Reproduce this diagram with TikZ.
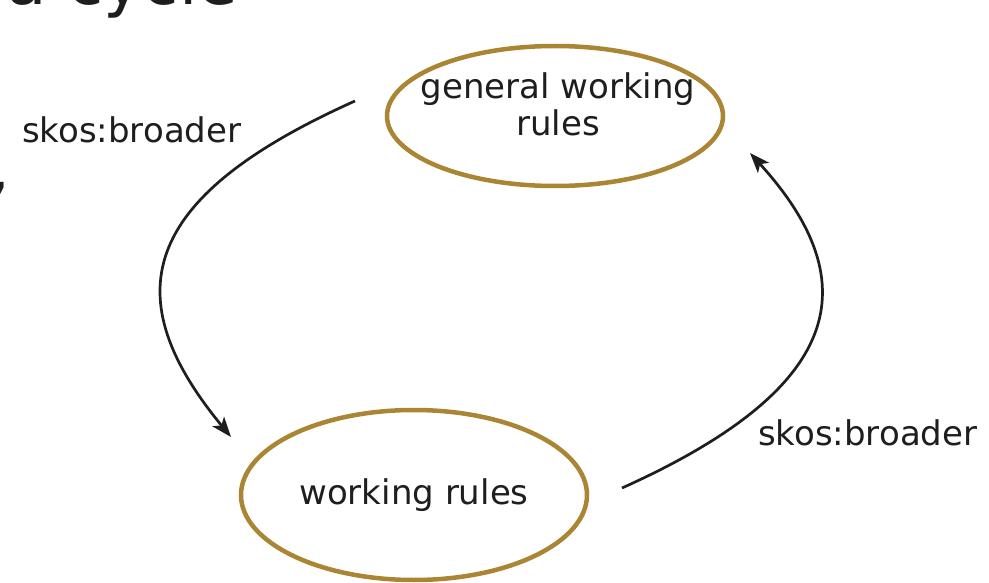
\documentclass[tikz,border=0pt]{standalone}
\usepackage{fontspec}
\setmainfont{DejaVu Sans}
\usetikzlibrary{shapes.geometric,arrows.meta}
\definecolor{gold}{RGB}{170,134,52}
\definecolor{ink}{RGB}{30,30,30}
\tikzset{
  concept/.style={ellipse, draw=gold, line width=4.5pt, fill=white, inner sep=0pt},
  ctext/.style={text=ink, align=center, inner sep=0pt, font=\fontsize{34}{37}\selectfont},
  conn/.style={line width=2.7pt, ink, -{Stealth[length=20pt,width=15pt,inset=5pt]}},
  lbl/.style={text=ink, font=\fontsize{34}{37}\selectfont, inner sep=0pt},
  title/.style={text=ink, font=\fontsize{66}{72}\selectfont, inner sep=0pt}
}
\begin{document}
\begin{tikzpicture}[x=1pt,y=-1pt]
\useasboundingbox (0,0) rectangle (989,583);
\clip (0,0) rectangle (989,583);
\fill[white] (0,0) rectangle (989,583);
% cut-off title fragments
\node[title, anchor=base west] (ttl) at (6,5) {a cycle};
\node[title, anchor=base west] (cm) at (-11,191) {,};
% concepts
\node[concept, minimum width=336pt, minimum height=140pt] (gwr) at (555,116) {};
\node[ctext] (gwrt) at (558,104) {general working\\rules};
\node[concept, minimum width=346pt, minimum height=170pt] (wr) at (414,495) {};
\node[ctext] (wrt) at (414,495) {working rules};
% connector end points
\coordinate (a1) at (355,101);
\coordinate (a2) at (231,437);
\coordinate (b1) at (622,488);
\coordinate (b2) at (750,153);
\draw[conn] (a1) .. controls (136,199) and (116.5,298) .. (a2);
\draw[conn] (b1) .. controls (840,390) and (871,286) .. (b2);
% labels
\node[lbl, anchor=base west] (l1) at (22,143) {skos:broader};
\node[lbl, anchor=base west] (l2) at (758,445) {skos:broader};
\end{tikzpicture}
\end{document}
